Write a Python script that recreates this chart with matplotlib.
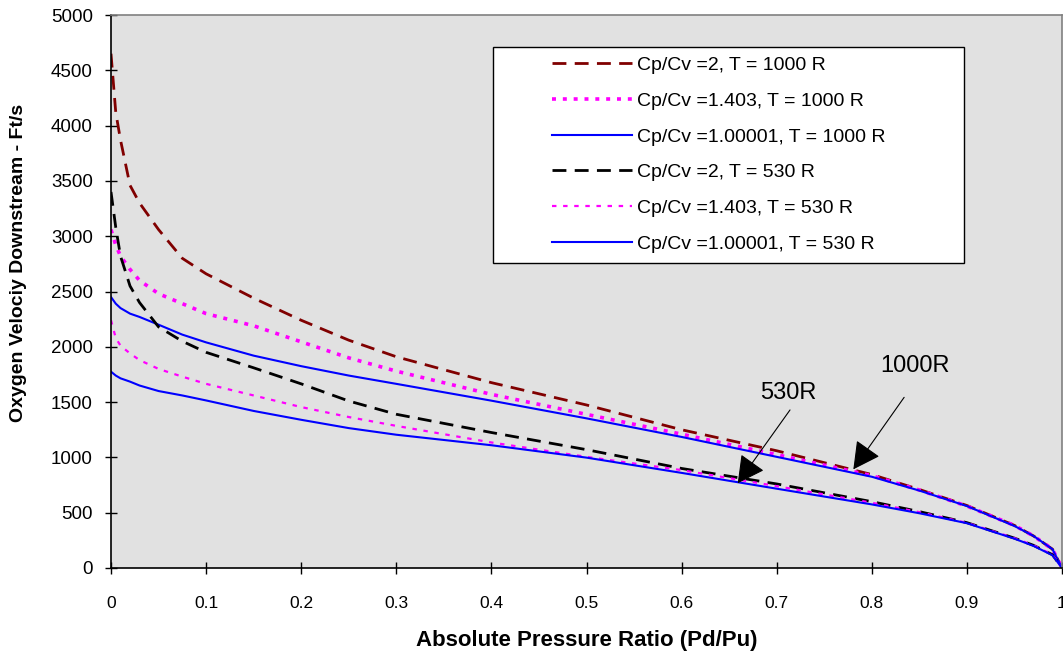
import matplotlib
matplotlib.use("Agg")
import matplotlib.pyplot as plt
from matplotlib.patches import Rectangle
from matplotlib.ticker import FuncFormatter

plt.rcParams['font.family'] = ['Liberation Sans', 'DejaVu Sans']

# ---- data ----
pressure_ratio = [0, 0.005, 0.01, 0.02, 0.03, 0.05, 0.075, 0.1, 0.15, 0.2, 0.25, 0.3,
                  0.4, 0.5, 0.6, 0.7, 0.8, 0.85, 0.9, 0.95, 0.97, 0.99, 1.0]

v_k2_1000 = [4650, 4120, 3870, 3460, 3300, 3060, 2800, 2660, 2440, 2240, 2060, 1910,
             1676, 1474, 1250, 1060, 845, 710, 565, 385, 290, 170, 0]
v_k1403_1000 = [3060, 2920, 2820, 2700, 2600, 2480, 2390, 2300, 2190, 2045, 1900, 1780,
                1570, 1389, 1210, 1025, 835, 705, 560, 385, 290, 170, 0]
v_k100001_1000 = [2450, 2390, 2350, 2300, 2270, 2200, 2110, 2040, 1920, 1825, 1740, 1665,
                  1513, 1353, 1185, 1005, 825, 700, 560, 380, 290, 170, 0]
v_k2_530 = [3400, 3080, 2820, 2550, 2400, 2180, 2050, 1950, 1810, 1665, 1510, 1390,
            1225, 1070, 900, 760, 600, 510, 410, 270, 205, 120, 0]
v_k1403_530 = [2240, 2080, 2010, 1940, 1880, 1800, 1730, 1665, 1560, 1455, 1365, 1285,
               1135, 1005, 885, 740, 590, 505, 408, 270, 205, 120, 0]
v_k100001_530 = [1775, 1740, 1715, 1685, 1650, 1600, 1560, 1515, 1420, 1340, 1265, 1205,
                 1110, 998, 860, 717, 575, 495, 405, 265, 200, 115, 0]

labels = ["Cp/Cv =2, T = 1000 R", "Cp/Cv =1.403, T = 1000 R", "Cp/Cv =1.00001, T = 1000 R",
          "Cp/Cv =2, T = 530 R", "Cp/Cv =1.403, T = 530 R", "Cp/Cv =1.00001, T = 530 R"]
x_ticks = [0, 0.1, 0.2, 0.3, 0.4, 0.5, 0.6, 0.7, 0.8, 0.9, 1.0]
y_ticks = [0, 500, 1000, 1500, 2000, 2500, 3000, 3500, 4000, 4500, 5000]

# ---- figure ----
fig = plt.figure(figsize=(10.63, 6.56), dpi=100)
ax = fig.add_axes([111/1063, 88/656, 951/1063, 553/656])
ax.set_facecolor('#e1e1e1')

series = [
    (v_k2_1000, dict(color='#800000', lw=2.0, linestyle=(0, (5, 3)))),
    (v_k1403_1000, dict(color='#ff00ff', lw=2.6, linestyle=(0, (1.1, 1.9)))),
    (v_k100001_1000, dict(color='#0000ff', lw=1.5, linestyle='-')),
    (v_k2_530, dict(color='black', lw=2.0, linestyle=(0, (5, 3)))),
    (v_k1403_530, dict(color='#ff00ff', lw=1.6, linestyle=(0, (2, 3)))),
    (v_k100001_530, dict(color='#0000ff', lw=1.5, linestyle='-')),
]
handles = []
for vals, st in series:
    h, = ax.plot(pressure_ratio, vals, **st)
    handles.append(h)

ax.set_xlim(0, 1)
ax.set_ylim(0, 5000)
ax.set_xticks(x_ticks)
ax.set_yticks(y_ticks)
ax.xaxis.set_major_formatter(FuncFormatter(lambda v, p: f"{v:g}"))
ax.tick_params(axis='both', direction='inout', length=8, width=1, labelsize=12.5, colors='black')
ax.tick_params(axis='y', labelsize=13.5, pad=9)
ax.tick_params(axis='x', pad=16)
for s in ['left', 'bottom']:
    ax.spines[s].set_color('black')
    ax.spines[s].set_linewidth(1.2)
for s in ['top', 'right']:
    ax.spines[s].set_color('#808080')
    ax.spines[s].set_linewidth(1.2)

ax.set_xlabel("Absolute Pressure Ratio (Pd/Pu)", fontsize=16, fontweight='bold', labelpad=14)
ax.set_ylabel("Oxygen Velociy Downstream - Ft/s", fontsize=14, fontweight='bold')
ax.yaxis.set_label_coords(-0.088, 0.5515)

# legend frame
ax.add_patch(Rectangle((0.4014, 0.5510), 0.4959, 0.3917, transform=ax.transAxes,
                       facecolor='white', edgecolor='black', lw=1.0, zorder=4))
leg = ax.legend(handles, labels, loc='upper left', bbox_to_anchor=(0.4637, 0.9249),
                frameon=False, fontsize=14, handlelength=4.1, handletextpad=0.26,
                labelspacing=0.93, borderaxespad=0, borderpad=0)
leg.set_zorder(5)

# annotations
arrow = dict(arrowstyle='-|>,head_length=0.85,head_width=0.45', color='black', lw=0.8,
             shrinkA=0, shrinkB=0, mutation_scale=20)
ax.annotate('', xy=(0.7806, 892), xytext=(0.834, 1543), arrowprops=arrow)
ax.text(0.8454, 1826, '1000R', ha='center', va='center', fontsize=17)
ax.annotate('', xy=(0.659, 766), xytext=(0.714, 1429), arrowprops=arrow)
ax.text(0.712, 1582, '530R', ha='center', va='center', fontsize=17)

fig.savefig('out.png', dpi=100)
